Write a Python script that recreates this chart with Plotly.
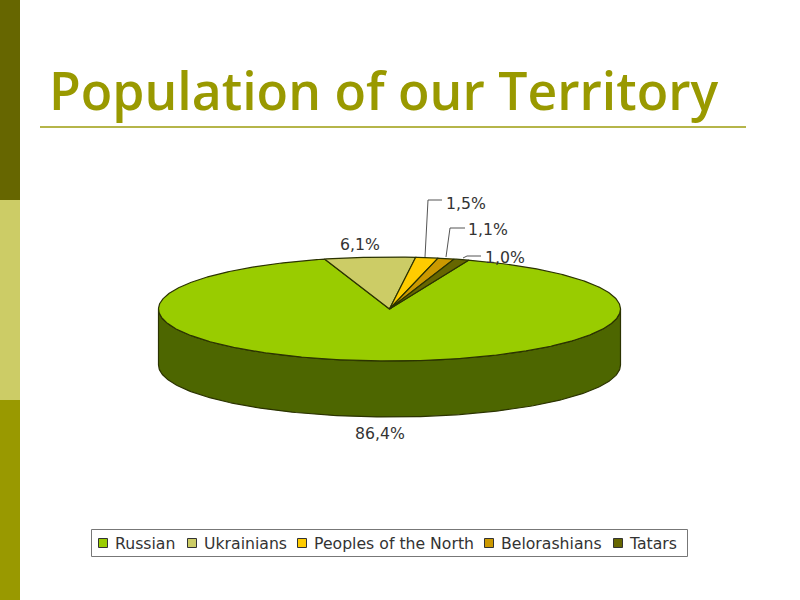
import numpy as np
import plotly.graph_objects as go

title = "Population of our Territory"
categories = ["Russian", "Ukrainians", "Peoples of the North", "Belorashians", "Tatars"]
values = [86.4, 6.1, 1.5, 1.1, 1.0]
labels = ["86,4%", "6,1%", "1,5%", "1,1%", "1,0%"]
colors = ["#99CC00", "#CCCC66", "#FFCC00", "#CC9900", "#666600"]
side_colors = ["#4D6600", "#666633", "#806600", "#664D00", "#333300"]

CX, CY, RX, RY, DEPTH = 389.5, 309, 231, 52, 56
START = 20.0
LINE = "#2b3300"
TXT = "#333333"
LABEL_FONT = dict(family="DejaVu Sans", size=15.7, color=TXT)


def pt(theta, y_off=0):
    t = np.radians(theta)
    return CX + RX * np.sin(t), CY - RY * np.cos(t) + y_off


fig = go.Figure()
shares = np.array(values) / sum(values) * 360
starts = START + np.concatenate(([0], np.cumsum(shares)[:-1]))

# Side wall: the part of each slice's rim on the front half
for s, w, col, name in zip(starts, shares, side_colors, categories):
    lo, hi = max(s, 90), min(s + w, 270)
    if hi > lo:
        th = np.linspace(lo, hi, 200)
        x1, y1 = pt(th)
        x2, y2 = pt(th[::-1], DEPTH)
        fig.add_trace(go.Scatter(
            x=np.r_[x1, x2, x1[0]], y=np.r_[y1, y2, y1[0]], mode="lines", fill="toself",
            fillcolor=col, line=dict(color=LINE, width=1.2), hoverinfo="skip", showlegend=False))

# Top face
for s, w, col, name, val in zip(starts, shares, colors, categories, values):
    th = np.linspace(s, s + w, max(int(w * 2), 8))
    x1, y1 = pt(th)
    fig.add_trace(go.Scatter(
        x=np.r_[CX, x1, CX], y=np.r_[CY, y1, CY], mode="lines", fill="toself", name=name,
        fillcolor=col, line=dict(color=LINE, width=1.2), text=f"{name}: {val}", hoverinfo="text",
        showlegend=False))

# Leader lines
for xs, ys in [([425, 428, 442], [257, 200, 200]),
               ([446, 450, 465], [257, 228, 228]),
               ([463, 467, 481], [258, 256, 256])]:
    fig.add_trace(go.Scatter(x=xs, y=ys, mode="lines", line=dict(color="#555555", width=1),
                             hoverinfo="skip", showlegend=False))

# Legend swatches
legend_x = [103, 192, 302, 489, 618]
legend_text_x = [113, 202, 312, 499, 627]
for x, col, name in zip(legend_x, colors, categories):
    fig.add_trace(go.Scatter(x=[x], y=[543], mode="markers", name=name, showlegend=False, hoverinfo="name",
                             marker=dict(symbol="square", size=9, color=col, line=dict(color="#333333", width=1))))

ann = [dict(x=47, y=90, text=title, xanchor="left", yanchor="middle", showarrow=False,
            font=dict(family="Open Sans", size=51.7, weight=600, color="#999900"))]
for (x, y, anc), lab in zip([(380, 433, "center"), (360, 244, "center"), (444, 203, "left"),
                             (466, 229, "left"), (483, 257, "left")], labels):
    ann.append(dict(x=x, y=y, text=lab, xanchor=anc, yanchor="middle", showarrow=False, font=LABEL_FONT))
for x, name in zip(legend_text_x, categories):
    ann.append(dict(x=x, y=543, text=name, xanchor="left", yanchor="middle", showarrow=False, font=LABEL_FONT))

shapes = [
    dict(type="rect", x0=0, x1=20, y0=0, y1=200, fillcolor="#666600", line_width=0, layer="below"),
    dict(type="rect", x0=0, x1=20, y0=200, y1=400, fillcolor="#CCCC66", line_width=0, layer="below"),
    dict(type="rect", x0=0, x1=20, y0=400, y1=600, fillcolor="#999900", line_width=0, layer="below"),
    dict(type="line", x0=40, x1=746, y0=127, y1=127, line=dict(color="#B5B54A", width=2), layer="below"),
    dict(type="rect", x0=91.5, x1=687.5, y0=529.5, y1=556.5, fillcolor="white",
         line=dict(color="#777777", width=1), layer="below"),
]

fig.update_layout(
    width=800, height=600, margin=dict(l=0, r=0, t=0, b=0), autosize=False,
    paper_bgcolor="white", plot_bgcolor="white", showlegend=False,
    xaxis=dict(range=[0, 800], visible=False, fixedrange=True),
    yaxis=dict(range=[600, 0], visible=False, fixedrange=True),
    annotations=ann, shapes=shapes,
)
fig.write_html("out.html", post_script="document.body.style.margin='0';document.body.style.overflow='hidden';",
               config={"displayModeBar": False})
